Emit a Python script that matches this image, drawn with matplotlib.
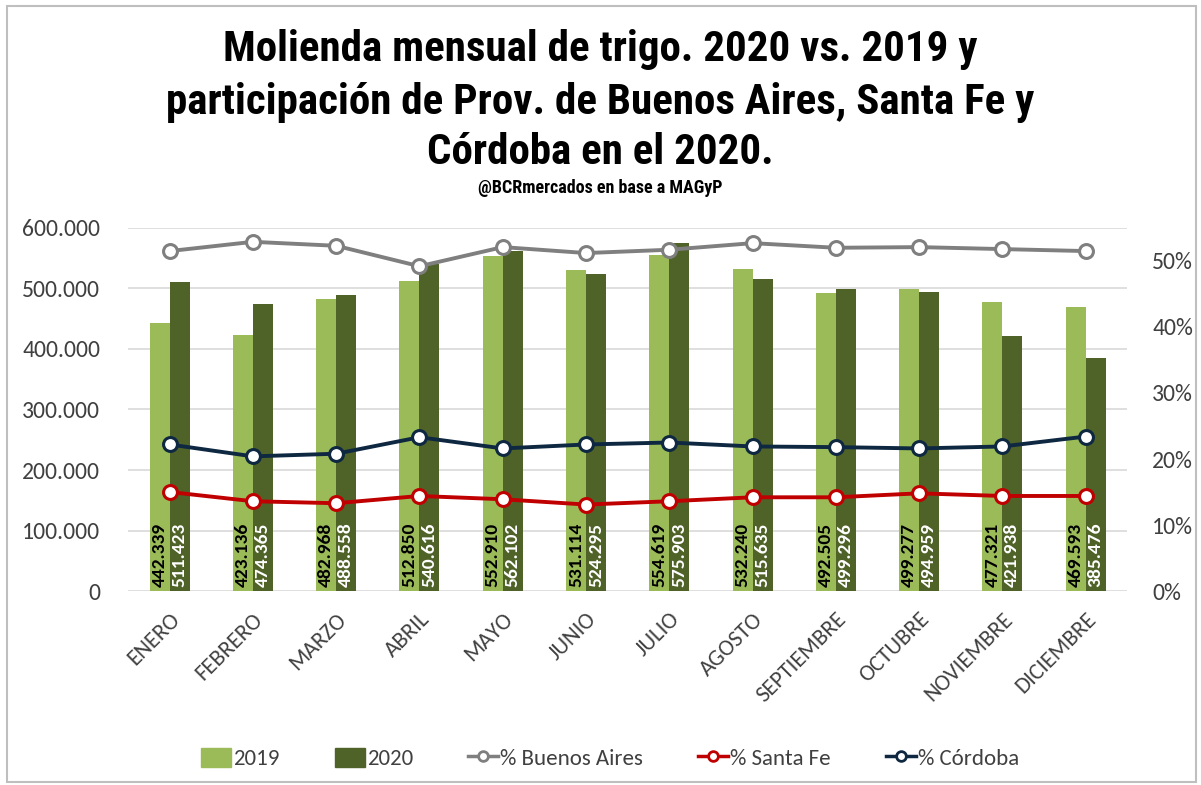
import numpy as np
import matplotlib
matplotlib.use('Agg')
import matplotlib.pyplot as plt
from matplotlib.patches import Rectangle
from matplotlib.lines import Line2D
from matplotlib.ticker import FuncFormatter

meses = ['ENERO', 'FEBRERO', 'MARZO', 'ABRIL', 'MAYO', 'JUNIO', 'JULIO',
         'AGOSTO', 'SEPTIEMBRE', 'OCTUBRE', 'NOVIEMBRE', 'DICIEMBRE']
molienda_2019 = [442339, 423136, 482968, 512850, 552910, 531114, 554619,
                 532240, 492505, 499277, 477321, 469593]
molienda_2020 = [511423, 474365, 488558, 540616, 562102, 524295, 575903,
                 515635, 499296, 494959, 421938, 385476]
pct_bsas = [0.515, 0.529, 0.523, 0.492, 0.521, 0.512, 0.517, 0.527, 0.520, 0.521, 0.518, 0.515]
pct_sfe = [0.150, 0.136, 0.133, 0.144, 0.139, 0.131, 0.136, 0.142, 0.142, 0.148, 0.144, 0.144]
pct_cba = [0.222, 0.204, 0.208, 0.233, 0.216, 0.222, 0.225, 0.219, 0.218, 0.216, 0.219, 0.234]

c19 = '#9BBB59'
c20 = '#4F6228'
c_ba = '#7F7F7F'
c_sf = '#C00000'
c_cb = '#0E2841'
txt = '#404040'
f_titulo = ['Roboto Condensed', 'Archivo Narrow', 'DejaVu Sans']
f_texto = ['Carlito', 'Lato', 'DejaVu Sans']

fig = plt.figure(figsize=(12.01, 7.85), dpi=100)
fig.patches.append(Rectangle((0.006, 0.004), 0.99, 0.988, transform=fig.transFigure,
                             fill=False, edgecolor='#BFBFBF', linewidth=1.5))

ax = fig.add_axes([0.1066, 0.2471, 0.832, 0.4625])
x = np.arange(len(meses))
w = 0.24
ax.bar(x - w / 2, molienda_2019, width=w, color=c19, zorder=2)
ax.bar(x + w / 2, molienda_2020, width=w, color=c20, zorder=2)

fmt = lambda v: f'{v:,.0f}'.replace(',', '.')
for i in range(len(meses)):
    ax.text(x[i] - w / 2, 6000, fmt(molienda_2019[i]), rotation=90, ha='center', va='bottom',
            fontsize=14, fontweight='bold', color='black', family=f_texto, zorder=3)
    ax.text(x[i] + w / 2, 6000, fmt(molienda_2020[i]), rotation=90, ha='center', va='bottom',
            fontsize=14, fontweight='bold', color='white', family=f_texto, zorder=3)

ax.set_ylim(0, 600000)
ax.set_xlim(-0.5, len(meses) - 0.5)
ax.set_yticks(np.arange(0, 600001, 100000))
ax.yaxis.set_major_formatter(FuncFormatter(lambda v, p: fmt(v)))
ax.grid(axis='y', color='#D9D9D9', linewidth=1.2, zorder=0)
ax.set_xticks(x)
ax.set_xticklabels(meses, rotation=45, ha='right', rotation_mode='anchor')
ax.tick_params(axis='x', length=0, pad=13, labelsize=16.5, labelcolor=txt)
ax.tick_params(axis='y', length=0, pad=20, labelsize=17, labelcolor=txt)
for s in ax.spines.values():
    s.set_visible(False)

ax2 = ax.twinx()
ax2.set_ylim(0, 0.55)
ax2.set_yticks(np.arange(0, 0.51, 0.1))
ax2.yaxis.set_major_formatter(FuncFormatter(lambda v, p: f'{v * 100:.0f}%'))
ax2.tick_params(axis='y', length=0, pad=18, labelsize=17, labelcolor=txt)
for s in ax2.spines.values():
    s.set_visible(False)

mk = dict(marker='o', markersize=10, markerfacecolor='white', markeredgewidth=2.2, linewidth=2.8)
ax2.plot(x, pct_bsas, color=c_ba, **mk)
ax2.plot(x, pct_sfe, color=c_sf, **mk)
ax2.plot(x, pct_cba, color=c_cb, **mk)

for t in ax.get_xticklabels() + ax.get_yticklabels() + ax2.get_yticklabels():
    t.set_family(f_texto)

titulo = ['Molienda mensual de trigo. 2020 vs. 2019 y',
          'participación de Prov. de Buenos Aires, Santa Fe y',
          'Córdoba en el 2020.']
for k, yy in enumerate([0.937, 0.87, 0.806]):
    fig.text(0.5, yy, titulo[k], ha='center', va='center',
             fontsize=31, fontweight='bold', family=f_titulo)
fig.text(0.5, 0.761, '@BCRmercados en base a MAGyP', ha='center', va='center',
         fontsize=13, fontweight='bold', family=f_titulo)

lkw = dict(marker='o', markersize=7, markerfacecolor='white', markeredgewidth=2, linewidth=2.5)
handles = [Rectangle((0, 0), 1, 1, color=c19), Rectangle((0, 0), 1, 1, color=c20),
           Line2D([], [], color=c_ba, **lkw),
           Line2D([], [], color=c_sf, **lkw),
           Line2D([], [], color=c_cb, **lkw)]
fig.legend(handles, ['2019', '2020', '% Buenos Aires', '% Santa Fe', '% Córdoba'],
           loc='center', bbox_to_anchor=(0.508, 0.034), ncol=5, frameon=False,
           prop={'family': f_texto, 'size': 16.5}, labelcolor=txt,
           handlelength=1.3, handleheight=0.9, handletextpad=0.1, columnspacing=2.4)

fig.savefig('out.png', dpi=100)
